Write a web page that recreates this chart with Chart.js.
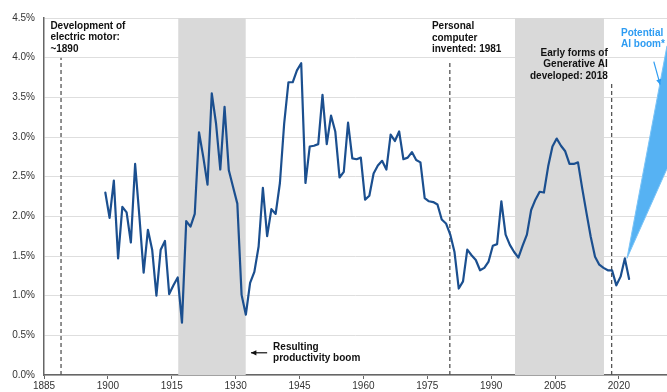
<!DOCTYPE html>
<html>
<head>
<meta charset="utf-8">
<script src="https://cdn.jsdelivr.net/npm/chart.js@4.4.1/dist/chart.umd.min.js"></script>
<style>
  html, body { margin: 0; padding: 0; background: #fff; }
  canvas { display: block; }
</style>
</head>
<body>
<canvas id="chart" width="667" height="392"></canvas>
<script>
// productivity growth, % (annual, from 1899, plotted near mid-year)
const firstYear = 1899;
const yearOffset = 0.4;
const productivity = [
  2.30, 1.98, 2.45, 1.47, 2.12, 2.05, 1.67, 2.66, 2.00, 1.29,
  1.83, 1.58, 1.00, 1.58, 1.69, 1.02, 1.13, 1.23, 0.66, 1.94,
  1.87, 2.03, 3.06, 2.75, 2.40, 3.55, 3.17, 2.59, 3.38, 2.58,
  2.37, 2.16, 1.01, 0.76, 1.16, 1.30, 1.62, 2.36, 1.75, 2.09,
  2.03, 2.42, 3.17, 3.69, 3.69, 3.84, 3.93, 2.42, 2.88, 2.89,
  2.91, 3.53, 2.91, 3.27, 3.07, 2.49, 2.56, 3.18, 2.73, 2.72,
  2.74, 2.21, 2.26, 2.54, 2.64, 2.70, 2.59, 3.03, 2.95, 3.07,
  2.72, 2.74, 2.81, 2.71, 2.68, 2.23, 2.19, 2.18, 2.15, 1.96,
  1.91, 1.77, 1.55, 1.09, 1.18, 1.58, 1.51, 1.45, 1.32, 1.35,
  1.43, 1.63, 1.65, 2.19, 1.77, 1.64, 1.55, 1.48, 1.63, 1.77,
  2.08, 2.21, 2.31, 2.30, 2.63, 2.88, 2.98, 2.89, 2.82, 2.66,
  2.66, 2.68, 2.35, 2.04, 1.74, 1.49, 1.39, 1.35, 1.32, 1.32,
  1.13, 1.24, 1.47, 1.21
];
const years = productivity.map((v, i) => firstYear + i);

// grey periods (productivity booms)
const boomStarts = [1916.5, 1995.6];
const boomEnds = [1932.4, 2016.5];

// dashed markers: year and top value
const markerYears = [1889, 1980.3, 2018.3];
const markerTops = [4.0, 3.97, 3.7];

// potential AI boom wedge
const aiYears = [2021.9, 2031.3];
const aiLow = [1.47, 2.6];
const aiHigh = [1.47, 4.15];

const xTicks = [1885, 1900, 1915, 1930, 1945, 1960, 1975, 1990, 2005, 2020];

const notes = [
  { lines: ['Development of', 'electric motor:', '~1890'], x: 1886.5, y: 4.40, align: 'left', color: '#111' },
  { lines: ['Personal', 'computer', 'invented: 1981'], x: 1976.1, y: 4.39, align: 'left', color: '#111' },
  { lines: ['Early forms of', 'Generative AI', 'developed: 2018'], x: 2017.4, y: 4.06, align: 'right', color: '#111' },
  { lines: ['Potential', 'AI boom*'], x: 2020.5, y: 4.31, align: 'left', color: '#2e9cf2' },
  { lines: ['Resulting', 'productivity boom'], x: 1938.8, y: 0.35, align: 'left', color: '#111' }
];

const datasets = [];

datasets.push({
  label: 'Productivity',
  data: years.map((yr, i) => ({ x: yr + yearOffset, y: productivity[i] })),
  borderColor: '#1b4f8f',
  borderWidth: 2.2,
  borderJoinStyle: 'round',
  borderCapStyle: 'round',
  pointRadius: 0,
  tension: 0,
  fill: false,
  order: 1
});

markerYears.forEach((yr, i) => {
  datasets.push({
    data: [{ x: yr, y: 0 }, { x: yr, y: markerTops[i] }],
    borderColor: '#555',
    borderWidth: 1.3,
    borderDash: [4, 3],
    pointRadius: 0,
    fill: false,
    order: 3
  });
});

datasets.push({
  data: aiYears.map((yr, i) => ({ x: yr, y: aiHigh[i] })),
  borderColor: '#7cc4f7',
  borderWidth: 1,
  pointRadius: 0,
  fill: false,
  order: 5
});
datasets.push({
  data: aiYears.map((yr, i) => ({ x: yr, y: aiLow[i] })),
  borderColor: '#7cc4f7',
  borderWidth: 1,
  backgroundColor: '#56b2f3',
  pointRadius: 0,
  fill: '-1',
  order: 5
});

boomStarts.forEach((start, i) => {
  datasets.push({
    data: [{ x: start, y: 4.5 }, { x: boomEnds[i], y: 4.5 }],
    borderWidth: 0,
    borderColor: 'rgba(0,0,0,0)',
    backgroundColor: '#d9d9d9',
    pointRadius: 0,
    fill: 'origin',
    order: 10
  });
});

function arrow(ctx, x1, y1, x2, y2, color) {
  const ang = Math.atan2(y2 - y1, x2 - x1);
  ctx.strokeStyle = color;
  ctx.fillStyle = color;
  ctx.lineWidth = 1.2;
  ctx.beginPath();
  ctx.moveTo(x1, y1);
  ctx.lineTo(x2, y2);
  ctx.stroke();
  ctx.beginPath();
  ctx.moveTo(x2, y2);
  ctx.lineTo(x2 - 6 * Math.cos(ang - 0.45), y2 - 6 * Math.sin(ang - 0.45));
  ctx.lineTo(x2 - 6 * Math.cos(ang + 0.45), y2 - 6 * Math.sin(ang + 0.45));
  ctx.closePath();
  ctx.fill();
}

const annotate = {
  id: 'annotate',
  afterDatasetsDraw(chart) {
    const { ctx, scales: { x, y } } = chart;
    ctx.save();
    ctx.font = 'bold 10px "Liberation Sans", Arial, sans-serif';
    ctx.textBaseline = 'middle';
    notes.forEach(n => {
      ctx.fillStyle = n.color;
      ctx.textAlign = n.align;
      const px = x.getPixelForValue(n.x);
      const py = y.getPixelForValue(n.y);
      n.lines.forEach((t, k) => ctx.fillText(t, px, py + k * 11.5));
    });
    // arrows
    arrow(ctx, x.getPixelForValue(1937.4), y.getPixelForValue(0.28),
               x.getPixelForValue(1933.6), y.getPixelForValue(0.28), '#111');
    arrow(ctx, x.getPixelForValue(2028.2), y.getPixelForValue(3.95),
               x.getPixelForValue(2029.7), y.getPixelForValue(3.66), '#2e9cf2');
    ctx.restore();
  }
};

new Chart(document.getElementById('chart').getContext('2d'), {
  type: 'line',
  data: { datasets: datasets },
  options: {
    responsive: false,
    animation: false,
    devicePixelRatio: 1,
    layout: { padding: { top: 18, right: 0, left: 0, bottom: 0 } },
    plugins: { legend: { display: false }, tooltip: { enabled: false } },
    scales: {
      x: {
        type: 'linear',
        min: 1885,
        max: 2031.3,
        afterBuildTicks: s => { s.ticks = xTicks.map(v => ({ value: v })); },
        afterFit: s => { s.height = 17; },
        grid: { drawOnChartArea: false, drawTicks: true, tickLength: 4, color: '#666' },
        border: { color: '#666', width: 1.5 },
        ticks: {
          color: '#333',
          padding: 1,
          maxRotation: 0,
          font: { size: 10, family: '"Liberation Sans", Arial, sans-serif' },
          callback: v => String(v)
        }
      },
      y: {
        min: 0,
        max: 4.5,
        afterFit: s => { s.width = 44; },
        grid: { color: '#dedede', lineWidth: 1, drawTicks: false },
        border: { color: '#666', width: 1.5 },
        ticks: {
          stepSize: 0.5,
          color: '#333',
          padding: 9,
          font: { size: 10, family: '"Liberation Sans", Arial, sans-serif' },
          callback: v => v.toFixed(1) + '%'
        }
      }
    }
  },
  plugins: [annotate]
});
</script>
</body>
</html>
